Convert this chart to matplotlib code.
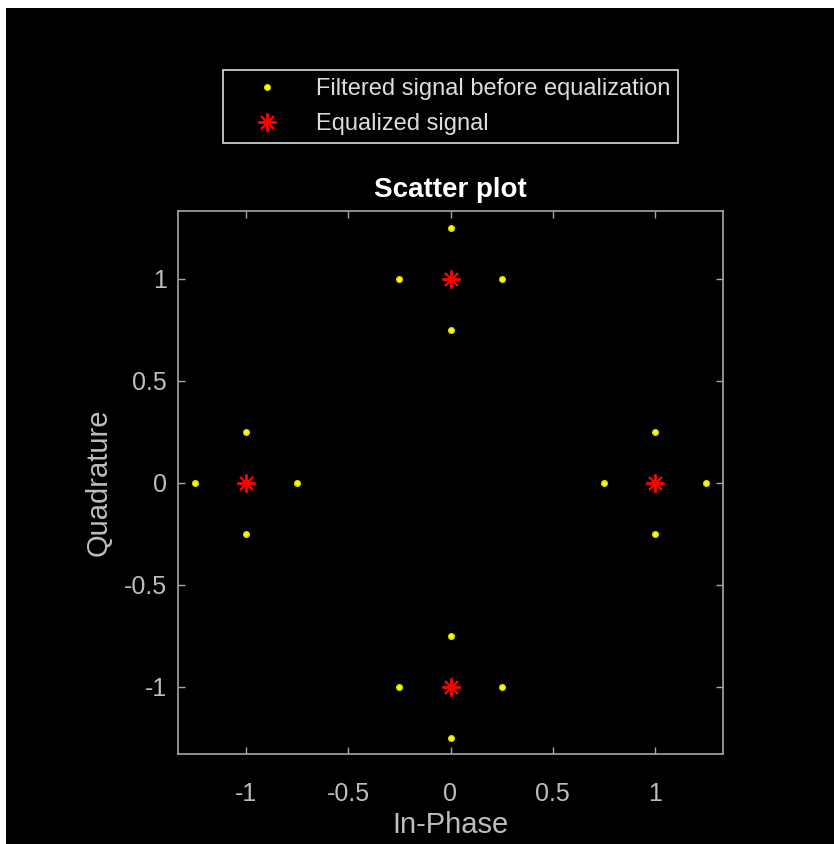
import matplotlib
matplotlib.use("Agg")
import matplotlib.pyplot as plt
from matplotlib.patches import Rectangle

# Data
filtered_i = [0.75, 1.25, 1.0, 1.0, -0.75, -1.25, -1.0, -1.0, 0.0, 0.0, 0.25, -0.25, 0.0, 0.0, 0.25, -0.25]
filtered_q = [0.0, 0.0, 0.25, -0.25, 0.0, 0.0, 0.25, -0.25, 0.75, 1.25, 1.0, 1.0, -0.75, -1.25, -1.0, -1.0]
equalized_i = [1.0, -1.0, 0.0, 0.0]
equalized_q = [0.0, 0.0, 1.0, -1.0]
xticks = [-1, -0.5, 0, 0.5, 1]
yticks = [-1, -0.5, 0, 0.5, 1]
xtick_labels = ["-1", "-0.5", "0", "0.5", "1"]
ytick_labels = ["-1", "-0.5", "0", "0.5", "1"]

plt.rcParams['font.family'] = ['Liberation Sans', 'DejaVu Sans']

W, H = 834, 844
fig = plt.figure(figsize=(W/100, H/100), dpi=100, facecolor='white')
fig.patches.append(Rectangle((6/W, 0), 1, (H-8)/H, transform=fig.transFigure,
                             facecolor='black', edgecolor='none', zorder=-10))

ax = fig.add_axes([178/W, 90/H, 545/W, 543/H])
ax.set_zorder(5)
ax.set_facecolor('black')
gray = '#bdbdbd'
axcol = '#a6a6a6'

ax.plot(filtered_i, filtered_q, linestyle='none', marker='o', markersize=4,
        color='#ffff00', markeredgecolor='#e0e000', label='Filtered signal before equalization')
ax.plot(equalized_i, equalized_q, linestyle='none', marker=(8, 2, 0), markersize=13,
        markeredgewidth=1.4, color='red', markeredgecolor='red', label='Equalized signal')

ax.set_xlim(-1.335, 1.335)
ax.set_ylim(-1.33, 1.333)
ax.set_xticks(xticks)
ax.set_xticklabels(xtick_labels)
ax.set_yticks(yticks)
ax.set_yticklabels(ytick_labels)
ax.tick_params(direction='in', colors=axcol, labelcolor=gray, labelsize=18, length=5,
               width=1, top=True, right=True)
ax.tick_params(axis='x', pad=20)
ax.tick_params(axis='y', pad=8)
for s in ax.spines.values():
    s.set_color(axcol)
    s.set_linewidth(1.2)

ax.set_xlabel('In-Phase', color=gray, fontsize=21, labelpad=4)
ax.set_ylabel('Quadrature', color=gray, fontsize=21, labelpad=8)
ax.set_title('Scatter plot', color='white', fontsize=20, fontweight='bold', pad=10)

leg = ax.legend(loc='lower center', bbox_to_anchor=(0.5, 1.125), fontsize=17,
                facecolor='black', edgecolor='#dddddd', framealpha=1, fancybox=False,
                borderpad=0.35, labelspacing=0.55, handletextpad=0.5, handlelength=3.1,
                borderaxespad=0)
leg.get_frame().set_linewidth(1.2)
for t in leg.get_texts():
    t.set_color('#dddddd')

fig.savefig('out.png', dpi=100, facecolor=fig.get_facecolor())
